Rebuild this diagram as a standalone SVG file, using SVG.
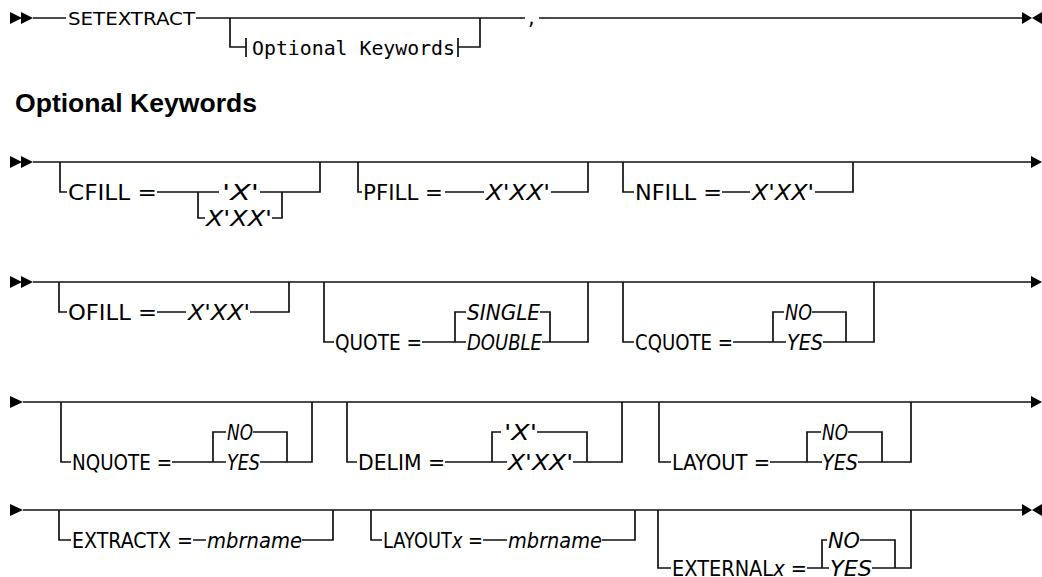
<svg xmlns="http://www.w3.org/2000/svg" xmlns:xlink="http://www.w3.org/1999/xlink" width="1042" height="577" viewBox="0 0 1042 577">
<style>
.ln{fill:none;stroke:#111;stroke-width:1.7}
.kw{font-family:"DejaVu Sans","Liberation Sans",sans-serif;font-size:22px;fill:#000}
.it{font-style:italic}
.sm{font-size:17px}
.cm{font-size:21px}
.mono{font-family:"DejaVu Sans Mono","Liberation Mono",monospace;font-size:19px;fill:#000}
.hd{font-family:"Liberation Sans",Arial,sans-serif;font-weight:bold;font-size:25px;fill:#000}
.mk{fill:#000}
</style>
<defs>
<g id="dbl"><polygon points="0,-6 12,0 0,6"/><polygon points="11,-6 23,0 11,6"/></g>
<g id="one"><polygon points="0,-6 13,0 0,6"/></g>
<g id="arr"><polygon points="0,-6 11,0 0,6"/></g>
<g id="end"><polygon points="0,-6 10,0 0,6"/><polygon points="20,-6 10,0 20,6"/></g>
</defs>
<rect width="1042" height="577" fill="#fff"/>

<g id="markers" class="mk">
<use xlink:href="#dbl" x="10" y="18"/>
<use xlink:href="#end" x="1022" y="18"/>
<use xlink:href="#dbl" x="10" y="162"/>
<use xlink:href="#arr" x="1031" y="162"/>
<use xlink:href="#dbl" x="10" y="282"/>
<use xlink:href="#arr" x="1031" y="282"/>
<use xlink:href="#one" x="10" y="402"/>
<use xlink:href="#arr" x="1031" y="402"/>
<use xlink:href="#one" x="10" y="510"/>
<use xlink:href="#end" x="1022" y="510"/>
</g>

<g id="connectors" class="ln">
<path d="M33,18 H66 M196,18 H525 M539,18 H1022"/>
<path d="M33,162 H1031"/>
<path d="M33,282 H1031"/>
<path d="M23,402 H1031"/>
<path d="M23,510 H1022"/>
</g>

<g id="setextract">
<text class="kw sm" x="68" y="24.5" textLength="127" lengthAdjust="spacingAndGlyphs">SETEXTRACT</text>
<text class="kw cm" x="528" y="25">,</text>
</g>

<g id="optional-ref">
<path class="ln" d="M230,18 V47 H246 M246,38 V57 M458,38 V57 M458,47 H480 V18"/>
<text class="mono" x="252" y="55" textLength="203" lengthAdjust="spacingAndGlyphs">Optional Keywords</text>
</g>

<g id="heading">
<text class="hd" x="15" y="112" textLength="242" lengthAdjust="spacingAndGlyphs">Optional Keywords</text>
</g>

<g id="cfill">
<path class="ln" d="M60,162 V192 H67 M157,192 H219 M260,192 H282 M198,192 V218 H205 M272,218 H282 V192 M282,192 H320 V162"/>
<text class="kw" x="68" y="200" textLength="89" lengthAdjust="spacingAndGlyphs">CFILL =</text>
<text class="kw it" x="222" y="200" textLength="37" lengthAdjust="spacingAndGlyphs">'X'</text>
<text class="kw it" x="206" y="226" textLength="66" lengthAdjust="spacingAndGlyphs">X'XX'</text>
</g>

<g id="pfill">
<path class="ln" d="M358,162 V192 H362 M445,192 H484 M551,192 H588 V162"/>
<text class="kw" x="363" y="200" textLength="80" lengthAdjust="spacingAndGlyphs">PFILL =</text>
<text class="kw it" x="486" y="200" textLength="64" lengthAdjust="spacingAndGlyphs">X'XX'</text>
</g>

<g id="nfill">
<path class="ln" d="M623,162 V192 H634 M722,192 H750 M815,192 H853 V162"/>
<text class="kw" x="635" y="200" textLength="87" lengthAdjust="spacingAndGlyphs">NFILL =</text>
<text class="kw it" x="752" y="200" textLength="62" lengthAdjust="spacingAndGlyphs">X'XX'</text>
</g>

<g id="ofill">
<path class="ln" d="M59,282 V312 H67 M157,312 H186 M250,312 H289 V282"/>
<text class="kw" x="68" y="320" textLength="89" lengthAdjust="spacingAndGlyphs">OFILL =</text>
<text class="kw it" x="188" y="320" textLength="62" lengthAdjust="spacingAndGlyphs">X'XX'</text>
</g>

<g id="quote">
<path class="ln" d="M324,282 V342 H334 M422,342 H466 M455,342 V312 H466 M540,312 H550 V342 M542,342 H588 V282"/>
<text class="kw" x="335" y="350" textLength="87" lengthAdjust="spacingAndGlyphs">QUOTE =</text>
<text class="kw it" x="467" y="320" textLength="73" lengthAdjust="spacingAndGlyphs">SINGLE</text>
<text class="kw it" x="467" y="350" textLength="75" lengthAdjust="spacingAndGlyphs">DOUBLE</text>
</g>

<g id="cquote">
<path class="ln" d="M623,282 V342 H634 M733,342 H786 M773,342 V312 H784 M812,312 H846 V342 M823,342 H874 V282"/>
<text class="kw" x="635" y="350" textLength="98" lengthAdjust="spacingAndGlyphs">CQUOTE =</text>
<text class="kw it" x="785" y="320" textLength="27" lengthAdjust="spacingAndGlyphs">NO</text>
<text class="kw it" x="787" y="350" textLength="36" lengthAdjust="spacingAndGlyphs">YES</text>
</g>

<g id="nquote">
<path class="ln" d="M61,402 V462 H71 M172,462 H226 M213,462 V432 H226 M253,432 H287 V462 M260,462 H312 V402"/>
<text class="kw" x="72" y="470" textLength="100" lengthAdjust="spacingAndGlyphs">NQUOTE =</text>
<text class="kw it" x="227" y="440" textLength="26" lengthAdjust="spacingAndGlyphs">NO</text>
<text class="kw it" x="227" y="470" textLength="33" lengthAdjust="spacingAndGlyphs">YES</text>
</g>

<g id="delim">
<path class="ln" d="M347,402 V462 H357 M445,462 H507 M492,462 V432 H501 M537,432 H587 V462 M573,462 H622 V402"/>
<text class="kw" x="358" y="470" textLength="87" lengthAdjust="spacingAndGlyphs">DELIM =</text>
<text class="kw it" x="504" y="440" textLength="33" lengthAdjust="spacingAndGlyphs">'X'</text>
<text class="kw it" x="508" y="470" textLength="65" lengthAdjust="spacingAndGlyphs">X'XX'</text>
</g>

<g id="layout">
<path class="ln" d="M659,402 V462 H671 M770,462 H822 M807,462 V432 H821 M848,432 H882 V462 M858,462 H911 V402"/>
<text class="kw" x="672" y="470" textLength="98" lengthAdjust="spacingAndGlyphs">LAYOUT =</text>
<text class="kw it" x="822" y="440" textLength="26" lengthAdjust="spacingAndGlyphs">NO</text>
<text class="kw it" x="822" y="470" textLength="36" lengthAdjust="spacingAndGlyphs">YES</text>
</g>

<g id="extractx">
<path class="ln" d="M59,510 V540 H71 M193,540 H206 M302,540 H333 V510"/>
<text class="kw" x="72" y="548" textLength="121" lengthAdjust="spacingAndGlyphs">EXTRACTX =</text>
<text class="kw it" x="207" y="548" textLength="95" lengthAdjust="spacingAndGlyphs">mbrname</text>
</g>

<g id="layoutx">
<path class="ln" d="M371,510 V540 H382 M483,540 H507 M602,540 H635 V510"/>
<text class="kw" x="383" y="548" textLength="100" lengthAdjust="spacingAndGlyphs">LAYOUT<tspan class="it">x</tspan> =</text>
<text class="kw it" x="508" y="548" textLength="94" lengthAdjust="spacingAndGlyphs">mbrname</text>
</g>

<g id="externalx">
<path class="ln" d="M658,510 V568 H671 M807,568 H829 M822,568 V540 H827 M860,540 H895 V568 M872,568 H911 V510"/>
<text class="kw" x="672" y="575.5" textLength="135" lengthAdjust="spacingAndGlyphs">EXTERNAL<tspan class="it">x</tspan> =</text>
<text class="kw it" x="828" y="548" textLength="32" lengthAdjust="spacingAndGlyphs">NO</text>
<text class="kw it" x="830" y="575.5" textLength="42" lengthAdjust="spacingAndGlyphs">YES</text>
</g>
</svg>
